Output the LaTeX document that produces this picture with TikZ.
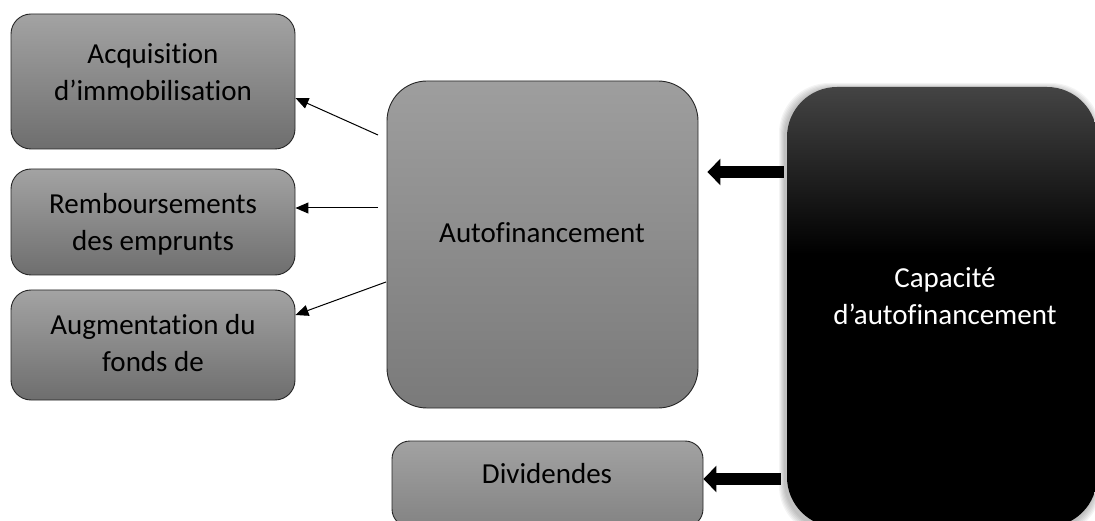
\documentclass[tikz,border=0pt]{standalone}
\usepackage{fontspec}
\setmainfont{Carlito}[Ligatures=NoCommon]
\usetikzlibrary{arrows.meta}

\definecolor{smtop}{HTML}{A3A3A3}
\definecolor{smbot}{HTML}{6E6E6E}
\definecolor{autotop}{HTML}{9E9E9E}
\definecolor{autobot}{HTML}{7A7A7A}
\definecolor{divtop}{HTML}{A2A2A2}
\definecolor{divbot}{HTML}{838383}
\definecolor{caftop}{HTML}{444444}

% dark panel: grey at the top, black from about the upper third down
\pgfdeclareverticalshading{cafshade}{100bp}{color(0bp)=(black); color(25bp)=(black); color(56bp)=(black); color(75bp)=(caftop); color(100bp)=(caftop)}

\begin{document}
\begin{tikzpicture}[x=1pt,y=-1pt,
  greybox/.style={draw=black!85, line width=0.9pt, inner sep=0pt},
  lbl/.style={font=\fontsize{29}{37}\selectfont, align=center, text=black, inner sep=0pt},
  thinarrow/.style={-{Triangle[length=13pt,width=11pt]}, line width=1pt},
  fatarrow/.style={-{Triangle[length=13pt,width=26pt]}, line width=12pt}]

\useasboundingbox[fill=white] (0,0) rectangle (1095,521);

% left column
\node[greybox, top color=smtop, bottom color=smbot, rounded corners=20pt,
      minimum width=284pt, minimum height=135pt] (acq) at (153,81.5) {};
\node[lbl] (acqt) at (153,72) {Acquisition\\d’immobilisation};

\node[greybox, top color=smtop, bottom color=smbot, rounded corners=20pt,
      minimum width=284pt, minimum height=106pt] (remb) at (153,222) {};
\node[lbl] (rembt) at (153,224) {Remboursements\\des emprunts};

\node[greybox, top color=smtop, bottom color=smbot, rounded corners=20pt,
      minimum width=284pt, minimum height=110pt] (aug) at (153,345) {};
\node[lbl] (augt) at (153,343) {Augmentation du\\fonds de};

% centre column, the bottom box runs off the lower edge
\begin{scope}
\clip (0,0) rectangle (1095,521);
\node[greybox, top color=autotop, bottom color=autobot, rounded corners=40pt,
      minimum width=311pt, minimum height=327pt] (autof) at (542.5,244.5) {};
\node[greybox, top color=divtop, bottom color=divbot, rounded corners=18pt,
      minimum width=311pt, minimum height=86pt] (div) at (547.5,484) {};

% soft shadow behind the dark panel
\foreach \i in {1,...,6}{
  \fill[black, opacity=0.045, rounded corners=50pt]
    ({787-\i-2},{87-\i+2}) rectangle ({1097+\i-2},{527+\i+3});
}
\node[shade, shading=cafshade, rounded corners=50pt, inner sep=0pt,
      minimum width=310pt, minimum height=440pt] (caf) at (942,307) {};
\end{scope}

\node[lbl] (autoft) at (542,233) {Autofinancement};
\node[lbl] (divt) at (547,474) {Dividendes};
\node[lbl, text=white] (caft) at (945,296.5) {Capacité\\d’autofinancement};

% uses of self-financing
\coordinate (s1) at (378,135);
\coordinate (s2) at (378,208);
\coordinate (s3) at (386,282);
\draw[thinarrow] (s1) -- (acq.east |- 0,98);
\draw[thinarrow] (s2) -- (remb.east |- s2);
\draw[thinarrow] (s3) -- (aug.east |- 0,315);

\draw[fatarrow, shorten <=3pt, shorten >=9pt] (caf.west |- 0,172) -- (autof.east |- 0,172);
\draw[fatarrow, shorten <=6pt] (caf.west |- 0,479) -- (div.east |- 0,479);
\end{tikzpicture}
\end{document}
